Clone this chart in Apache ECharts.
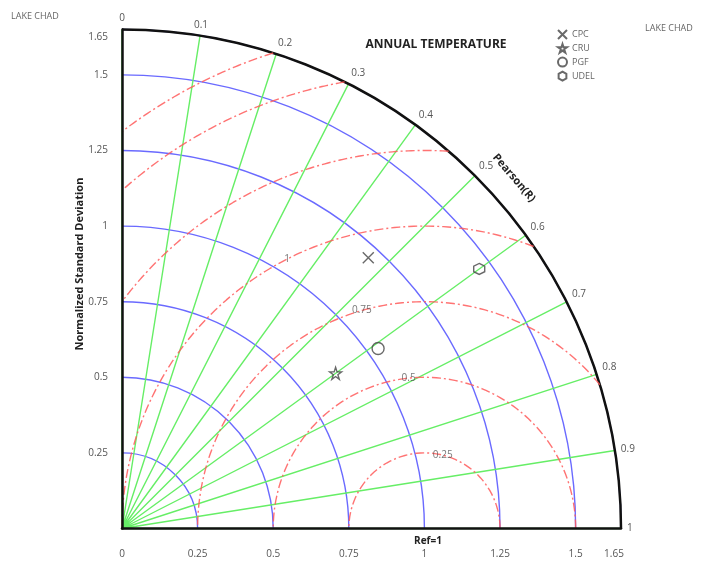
<!DOCTYPE html>
<html>
<head>
<meta charset="utf-8">
<script src="https://cdn.jsdelivr.net/npm/echarts@6/dist/echarts.min.js"></script>
<style>
  html, body { margin: 0; padding: 0; background: #fff; }
  #chart { width: 706px; height: 563px; }
</style>
</head>
<body>
<div id="chart"></div>
<script>
// data
const names = ['CPC', 'CRU', 'PGF', 'UDEL'];
const stdDev = [1.21, 0.873, 1.035, 1.46];
const pearson = [0.47, 0.60, 0.61, 0.60];

const stdMax = 1.65;
const refStd = 1;
const rmsLevels = [0.25, 0.5, 0.75, 1, 1.25, 1.5, 1.65];
const rmsLabelLevels = [0.25, 0.5, 0.75, 1];

const symbols = [
  'path://M0,0L10,10M10,0L0,10',
  'path://M5,0L6.2,3.6L10,3.6L6.9,5.9L8.1,9.5L5,7.3L1.9,9.5L3.1,5.9L0,3.6L3.8,3.6Z',
  'circle',
  'path://M5,0L9.3,2.5L9.3,7.5L5,10L0.7,7.5L0.7,2.5Z'
];
const symSizes = [11, 12, 12, 11];

// where the rms labels sit along their arcs (degrees from the ref point)
const rmsLabelAngles = [76, 96, 106, 117];

// rms arcs around the reference point, clipped to the outer std arc
function rmsArc(R) {
  let c0 = (stdMax * stdMax - refStd * refStd - R * R) / (2 * R * refStd);
  let a0 = Math.acos(Math.max(-1, Math.min(1, c0)));
  let a1 = R > refStd ? Math.acos(-refStd / R) : Math.PI;
  let pts = [];
  let n = 120;
  for (let i = 0; i <= n; i++) {
    let a = a0 + (a1 - a0) * i / n;
    pts.push([refStd + R * Math.cos(a), R * Math.sin(a)]);
  }
  return pts;
}

const chart = echarts.init(document.getElementById('chart'));

const font = '"Open Sans", "Noto Sans", sans-serif';

let series = [];

rmsLevels.forEach(R => {
  series.push({
    type: 'line',
    xAxisIndex: 0,
    yAxisIndex: 0,
    data: rmsArc(R),
    showSymbol: false,
    silent: true,
    lineStyle: { color: 'rgba(255,90,90,0.85)', width: 1.4, type: [9, 3, 2, 3] },
    z: 3
  });
});

series.push({
  type: 'scatter',
  xAxisIndex: 0,
  yAxisIndex: 0,
  symbolSize: 0,
  silent: true,
  data: rmsLabelLevels.map((R, i) => {
    let a = rmsLabelAngles[i] * Math.PI / 180;
    return { value: [refStd + R * Math.cos(a), R * Math.sin(a)], name: String(R) };
  }),
  label: {
    show: true,
    position: 'inside',
    formatter: p => p.name,
    color: '#555',
    fontSize: 10,
    fontFamily: font
  },
  z: 4
});

names.forEach((n, i) => {
  series.push({
    name: n,
    type: 'scatter',
    coordinateSystem: 'polar',
    polarIndex: 0,
    symbol: symbols[i],
    symbolSize: symSizes[i],
    data: [[stdDev[i], pearson[i]]],
    itemStyle: {
      color: 'rgba(0,0,0,0)',
      borderColor: '#444',
      borderWidth: 1.4
    },
    z: 6
  });
});

chart.setOption({
  backgroundColor: '#fff',
  animation: false,
  textStyle: { fontFamily: font },
  grid: {
    left: 122, top: 29.5, width: 499, height: 499,
    outerBoundsMode: 'none'
  },
  xAxis: {
    type: 'value', min: 0, max: stdMax, interval: 0.25,
    axisLine: { lineStyle: { color: '#111', width: 2.5 } },
    axisTick: { show: false },
    splitLine: { show: false },
    axisLabel: {
      margin: 21, color: '#555', fontSize: 10, showMaxLabel: true,
      formatter: v => v === stdMax ? '{m|' + v + '}' : String(v),
      rich: { m: { padding: [0, 14, 0, 0], fontSize: 10, color: '#555' } }
    },
    z: 10
  },
  yAxis: {
    type: 'value', min: 0, max: stdMax, interval: 0.25,
    axisLine: { lineStyle: { color: '#111', width: 2.5 } },
    axisTick: { show: false },
    splitLine: { show: false },
    axisLabel: {
      margin: 14, color: '#555', fontSize: 10, showMaxLabel: true, showMinLabel: false,
      formatter: v => v === stdMax ? '{m|' + v + '}' : String(v),
      rich: { m: { padding: [15, 0, 0, 0], fontSize: 10, color: '#555' } }
    },
    z: 10
  },
  polar: { center: [122, 528.5], radius: 499 },
  angleAxis: {
    type: 'value', min: 0, max: 1, interval: 0.1,
    startAngle: 90, endAngle: 0, clockwise: true,
    axisLine: { lineStyle: { color: '#111', width: 2.5 } },
    axisTick: { show: false },
    axisLabel: { margin: 6, color: '#555', fontSize: 10 },
    splitLine: { lineStyle: { color: '#66ee66', width: 1.4 } }
  },
  radiusAxis: {
    type: 'value', min: 0, max: stdMax, interval: 0.25,
    axisLine: { show: false },
    axisTick: { show: false },
    axisLabel: { show: false },
    splitLine: { lineStyle: { color: '#6a6aff', width: 1.4 } }
  },
  legend: {
    data: names,
    orient: 'vertical',
    left: 552, top: 24,
    itemWidth: 9, itemHeight: 9, itemGap: 3,
    textStyle: { fontSize: 9, color: '#666' }
  },
  graphic: [
    { type: 'text', left: 11, top: 12, style: { text: 'LAKE CHAD', fontSize: 9, fill: '#666', fontFamily: font } },
    { type: 'text', left: 645, top: 24, style: { text: 'LAKE CHAD', fontSize: 9, fill: '#666', fontFamily: font } },
    { type: 'text', x: 436, y: 45, style: { text: 'ANNUAL TEMPERATURE', fontSize: 12, fontWeight: 'bold', fill: '#222', fontFamily: font, align: 'center', verticalAlign: 'middle' } },
    { type: 'text', x: 514, y: 178, rotation: -0.86, style: { text: 'Pearson(R)', fontSize: 11, fontWeight: 'bold', fill: '#222', fontFamily: font, align: 'center', verticalAlign: 'middle' } },
    { type: 'text', x: 80, y: 264, rotation: Math.PI / 2, style: { text: 'Normalized Standard Deviation', fontSize: 11, fontWeight: 'bold', fill: '#222', fontFamily: font, align: 'center', verticalAlign: 'middle' } },
    { type: 'text', x: 428, y: 541, style: { text: 'Ref=1', fontSize: 10, fontWeight: 'bold', fill: '#222', fontFamily: font, align: 'center', verticalAlign: 'middle' } }
  ],
  series: series
});
</script>
</body>
</html>
